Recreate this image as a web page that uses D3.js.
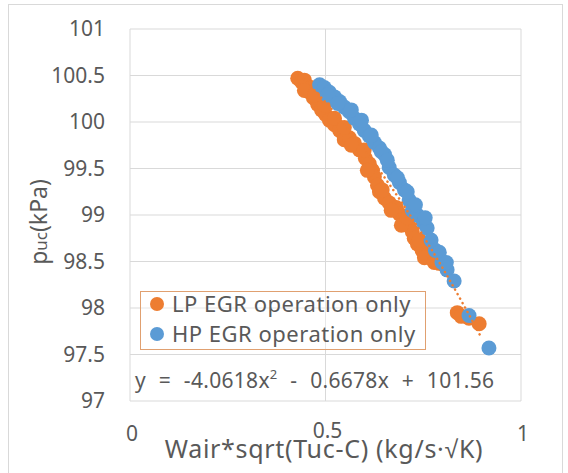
<!DOCTYPE html>
<html><head><meta charset="utf-8">
<script src="https://cdn.jsdelivr.net/npm/d3@7"></script>
<style>body{margin:0;background:#fff}svg{display:block}text{font-family:"Noto Sans",sans-serif;fill:#595959}</style>
</head><body>
<script>
// LP EGR series (orange)
const lpX = [0.429,0.439,0.446,0.449,0.459,0.464,0.469,0.480,0.485,0.490,0.500,0.510,0.523,0.536,0.548,0.548,0.561,0.574,0.587,0.602,0.612,0.620,0.625,0.633,0.638,0.651,0.663,0.681,0.689,0.702,0.714,0.722,0.727,0.735,0.747,0.760,0.773,0.791,0.837,0.847,0.867,0.893,
  0.446,0.472,0.497,0.523,0.548,0.566,0.599,0.607,0.645,0.668,0.694,0.709,0.740,0.753,0.778,0.804];
const lpY = [100.47,100.43,100.45,100.39,100.32,100.37,100.26,100.19,100.24,100.13,100.08,100.02,99.97,99.91,99.87,99.81,99.83,99.77,99.70,99.61,99.55,99.48,99.41,99.32,99.25,99.18,99.13,99.08,99.01,98.95,98.88,98.82,98.75,98.69,98.62,98.57,98.53,98.48,97.95,97.91,97.89,97.83,
  100.34,100.29,100.18,100.04,99.94,99.75,99.70,99.48,99.27,99.05,98.89,98.97,98.73,98.54,98.49,98.46];
// HP EGR series (blue)
const hpX = [0.485,0.497,0.510,0.523,0.536,0.548,0.561,0.574,0.587,0.599,0.612,0.625,0.638,0.651,0.663,0.676,0.689,0.702,0.714,0.722,0.735,0.750,0.760,0.770,0.781,0.798,0.811,0.829,0.867,0.918,
  0.505,0.531,0.566,0.592,0.617,0.643,0.658,0.684,0.709,0.730,0.755,0.791,0.809];
const hpY = [100.40,100.37,100.32,100.27,100.22,100.16,100.11,100.04,99.98,99.91,99.85,99.78,99.72,99.65,99.51,99.43,99.35,99.27,99.16,99.05,99.00,98.92,98.86,98.73,98.62,98.49,98.41,98.29,97.92,97.57,
  100.29,100.20,100.13,100.02,99.86,99.68,99.59,99.40,99.25,99.11,98.97,98.60,98.49];
const yTicks = [97,97.5,98,98.5,99,99.5,100,100.5,101];
const xTicks = [0,0.5,1];
const trendCoef = [-4.0618,-0.6678,101.56];
const trendRange = [0.435,0.905];
const seriesNames = ["LP EGR operation only","HP EGR operation only"];
const colors = ["#ED7D31","#5B9BD5"];

const W=568,H=473;
const svg=d3.select("body").append("svg").attr("width",W).attr("height",H);
svg.append("rect").attr("x",8.5).attr("y",4.5).attr("width",554).attr("height",480).attr("fill","#fff").attr("stroke","#D9D9D9");

const x=d3.scaleLinear().domain([0,1]).range([130,521]);
const y=d3.scaleLinear().domain([97,101]).range([401,29]);

// gridlines
const g=svg.append("g");
g.selectAll("line.h").data(yTicks).join("line").attr("x1",x(0)).attr("x2",x(1))
 .attr("y1",d=>y(d)).attr("y2",d=>y(d)).attr("stroke","#D9D9D9").attr("stroke-width",1);
g.selectAll("line.v").data(xTicks).join("line").attr("y1",y(97)).attr("y2",y(101))
 .attr("x1",d=>x(d)).attr("x2",d=>x(d)).attr("stroke","#D9D9D9").attr("stroke-width",1);

// y tick labels
svg.selectAll("text.yt").data(yTicks).join("text").attr("class","yt")
 .attr("x",105).attr("y",d=>y(d)).attr("dy","0.35em").attr("text-anchor","end")
 .attr("font-size",21).text(d=>d);
// x tick labels
svg.selectAll("text.xt").data(xTicks).join("text").attr("class","xt")
 .attr("x",d=>x(d)+2).attr("y",d=>d===0.5?431:434).attr("dy","0.35em").attr("text-anchor","middle")
 .attr("font-size",21).text(d=>d);

// points
const lp=lpX.map((v,i)=>[v,lpY[i]]);
const hp=hpX.map((v,i)=>[v,hpY[i]]);
svg.append("g").selectAll("circle").data(lp).join("circle")
 .attr("cx",d=>x(d[0])).attr("cy",d=>y(d[1])).attr("r",7.5).attr("fill",colors[0]);
svg.append("g").selectAll("circle").data(hp).join("circle")
 .attr("cx",d=>x(d[0])).attr("cy",d=>y(d[1])).attr("r",7.5).attr("fill",colors[1]);

// trendline
const tx=d3.range(trendRange[0],trendRange[1],0.005);
const line=d3.line().x(d=>x(d)).y(d=>y(trendCoef[0]*d*d+trendCoef[1]*d+trendCoef[2]));
svg.append("path").datum(tx).attr("d",line).attr("fill","none").attr("stroke",colors[0])
 .attr("stroke-width",2.5).attr("stroke-linecap","round").attr("stroke-dasharray","0.1 5");

// legend
svg.append("rect").attr("x",140.5).attr("y",291.5).attr("width",285).attr("height",58)
 .attr("fill","#fff").attr("fill-opacity",0.4).attr("stroke","#E0A070");
seriesNames.forEach((n,i)=>{
  svg.append("circle").attr("cx",157).attr("cy",304+i*30).attr("r",7).attr("fill",colors[i]);
  svg.append("text").attr("x",172).attr("y",304+i*30).attr("dy","0.35em").attr("font-size",22)
   .attr("letter-spacing",0.5).text(n);
});

// equation
const eq=svg.append("text").attr("x",135).attr("y",388).attr("font-size",21).attr("word-spacing",7).attr("letter-spacing",0.3);
eq.append("tspan").text("y = -4.0618x");
eq.append("tspan").attr("font-size",13).attr("dy",-9).text("2");
eq.append("tspan").attr("dy",9).text(" - 0.6678x + 101.56");

// axis titles
svg.append("text").attr("x",324).attr("y",458).attr("text-anchor","middle").attr("font-size",25)
 .attr("letter-spacing",0.7).text("Wair*sqrt(Tuc-C) (kg/s·√K)");
const yt=svg.append("text").attr("transform","translate(47,222) rotate(-90)").attr("text-anchor","middle").attr("font-size",23);
yt.append("tspan").text("p");
yt.append("tspan").attr("font-size",17).text("uc");
yt.append("tspan").text("(kPa)");
</script>
</body></html>
